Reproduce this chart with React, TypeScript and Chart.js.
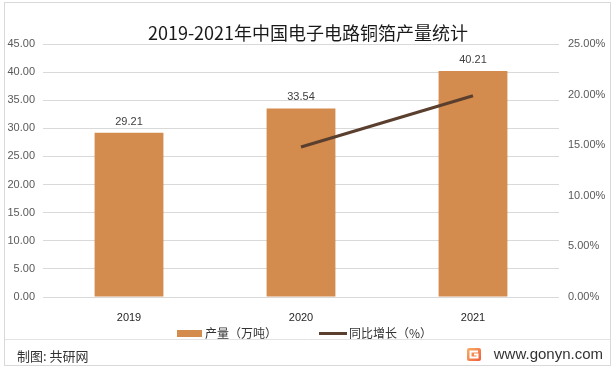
import React, { useEffect, useRef } from "react";
import { Chart, registerables } from "chart.js";

Chart.register(...registerables);

const categories = ["2019", "2020", "2021"];
const production = [29.21, 33.54, 40.21];
const growth = [null, 14.82, 19.89];
const leftTicks = [0, 5, 10, 15, 20, 25, 30, 35, 40, 45];
const rightTicks = [0, 5, 10, 15, 20, 25];

const TITLE = "2019-2021年中国电子电路铜箔产量统计";
const BAR_LABEL = "产量（万吨）";
const LINE_LABEL = "同比增长（%）";
const SOURCE = "制图: 共研网";
const SITE = "www.gonyn.com";

const BAR_COLOR = "#D38B4E";
const LINE_COLOR = "#5A3F2E";
const CJK = '"Noto Sans CJK SC", "Noto Sans", sans-serif';
const LAT = '"Liberation Sans", Arial, sans-serif';

const decor = {
  id: "decor",
  beforeDraw(chart: any) {
    const ctx = chart.ctx;
    ctx.save();
    ctx.fillStyle = "#ffffff";
    ctx.fillRect(0, 0, chart.width, chart.height);
    ctx.strokeStyle = "#D9D9D9";
    ctx.lineWidth = 1;
    ctx.strokeRect(4.5, 2.5, 606, 363);
    ctx.strokeStyle = "#E3E3E3";
    ctx.beginPath();
    ctx.moveTo(5, 339.5);
    ctx.lineTo(610, 339.5);
    ctx.stroke();
    ctx.restore();
  },
  afterDraw(chart: any) {
    const ctx = chart.ctx;
    ctx.save();
    // title
    ctx.fillStyle = "#1a1a1a";
    ctx.font = `18px ${CJK}`;
    ctx.textAlign = "center";
    ctx.textBaseline = "middle";
    ctx.fillText(TITLE, 308, 33);

    // legend
    ctx.fillStyle = BAR_COLOR;
    ctx.fillRect(177, 330, 25, 7);
    ctx.fillStyle = "#333333";
    ctx.font = `12px ${CJK}`;
    ctx.textAlign = "left";
    ctx.fillText(BAR_LABEL, 205, 333.5);
    ctx.strokeStyle = LINE_COLOR;
    ctx.lineWidth = 3;
    ctx.beginPath();
    ctx.moveTo(319, 333.5);
    ctx.lineTo(347, 333.5);
    ctx.stroke();
    ctx.fillText(LINE_LABEL, 349, 333.5);

    // footer
    ctx.fillStyle = "#333333";
    ctx.font = `13px ${CJK}`;
    ctx.fillText(SOURCE, 17, 356);
    ctx.font = `15px ${LAT}`;
    ctx.textAlign = "right";
    ctx.fillText(SITE, 603, 355);

    // logo
    const g = ctx.createLinearGradient(467, 348, 481, 361);
    g.addColorStop(0, "#F7B267");
    g.addColorStop(1, "#EF5B3A");
    ctx.fillStyle = g;
    ctx.beginPath();
    (ctx as any).roundRect ? ctx.roundRect(467, 348, 14, 13, 2) : ctx.rect(467, 348, 14, 13);
    ctx.fill();
    ctx.strokeStyle = "#ffffff";
    ctx.lineWidth = 2;
    ctx.beginPath();
    ctx.moveTo(478, 351.5);
    ctx.lineTo(470.5, 351.5);
    ctx.lineTo(470.5, 357.5);
    ctx.lineTo(477.5, 357.5);
    ctx.lineTo(477.5, 354.5);
    ctx.lineTo(474, 354.5);
    ctx.stroke();
    ctx.restore();
  },
  afterDatasetsDraw(chart: any) {
    const ctx = chart.ctx;
    const meta = chart.getDatasetMeta(0);
    ctx.save();
    ctx.fillStyle = "#404040";
    ctx.font = `11px ${LAT}`;
    ctx.textAlign = "center";
    ctx.textBaseline = "middle";
    meta.data.forEach((el: any, i: number) => {
      ctx.fillText(production[i].toFixed(2), el.x, el.y - 11);
    });
    ctx.restore();
  },
};

export default function App() {
  const ref = useRef<HTMLCanvasElement | null>(null);
  useEffect(() => {
    document.body.style.margin = "0";
    const chart = new Chart(ref.current as HTMLCanvasElement, {
      type: "bar",
      data: {
        labels: categories,
        datasets: [
          {
            type: "bar",
            label: BAR_LABEL,
            data: production,
            backgroundColor: BAR_COLOR,
            barPercentage: 0.4,
            categoryPercentage: 1,
            yAxisID: "y",
            order: 1,
          },
          {
            type: "line",
            label: LINE_LABEL,
            data: growth as any,
            borderColor: LINE_COLOR,
            backgroundColor: LINE_COLOR,
            borderWidth: 3,
            pointRadius: 0,
            yAxisID: "y1",
            order: 0,
          },
        ],
      },
      options: {
        responsive: false,
        animation: false,
        layout: { padding: { left: 0, right: 0, top: 44, bottom: 40 } },
        plugins: {
          legend: { display: false },
          title: { display: false },
          tooltip: { enabled: false },
        },
        scales: {
          x: {
            grid: { display: false },
            border: { display: false },
            ticks: { color: "#262626", font: { size: 11, family: LAT }, padding: 6 },
            afterFit: (s: any) => {
              s.height = 35;
            },
          },
          y: {
            position: "left",
            min: 0,
            max: 45,
            afterBuildTicks: (s: any) => {
              s.ticks = leftTicks.map((v) => ({ value: v }));
            },
            grid: { color: "#D9D9D9", drawTicks: false },
            border: { display: false },
            ticks: {
              color: "#595959",
              font: { size: 11, family: LAT },
              padding: 8,
              callback: (v: any) => Number(v).toFixed(2),
            },
            afterFit: (s: any) => {
              s.width = 43;
            },
          },
          y1: {
            position: "right",
            min: 0,
            max: 25,
            afterBuildTicks: (s: any) => {
              s.ticks = rightTicks.map((v) => ({ value: v }));
            },
            grid: { display: false, drawTicks: false },
            border: { display: false },
            ticks: {
              color: "#595959",
              font: { size: 11, family: LAT },
              padding: 9,
              callback: (v: any) => Number(v).toFixed(2) + "%",
            },
            afterFit: (s: any) => {
              s.width = 56;
            },
          },
        },
      },
      plugins: [decor],
    });
    return () => chart.destroy();
  }, []);
  return (
    <div style={{ position: "absolute", left: 0, top: 0, width: 615, height: 372 }}>
      <canvas ref={ref} width={615} height={372} />
    </div>
  );
}
